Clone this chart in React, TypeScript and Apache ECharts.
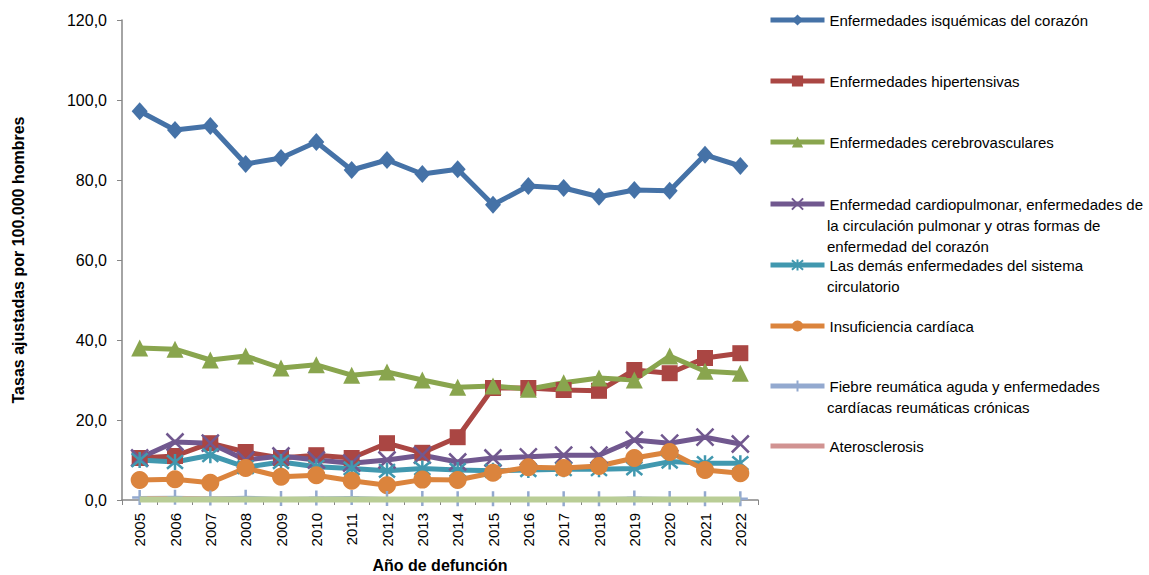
import React, { useEffect, useRef } from "react";
import * as echarts from "echarts";

const years = ["2005","2006","2007","2008","2009","2010","2011","2012","2013","2014","2015","2016","2017","2018","2019","2020","2021","2022"];
const isquemicas = [97.2,92.5,93.5,84.0,85.5,89.5,82.5,85.0,81.5,82.7,73.8,78.5,78.0,75.8,77.5,77.3,86.3,83.5];
const hipertensivas = [10.5,11.0,14.2,12.0,10.5,11.2,10.5,14.2,11.8,15.7,28.0,28.0,27.5,27.3,32.5,31.7,35.5,36.7];
const cerebrovasculares = [38.0,37.7,35.0,36.0,33.0,33.8,31.2,32.0,30.0,28.2,28.5,27.7,29.3,30.5,30.0,36.0,32.2,31.7];
const cardiopulmonar = [10.5,14.5,14.2,10.0,11.0,10.0,9.2,10.0,11.2,9.5,10.5,10.8,11.2,11.2,15.0,14.2,15.7,14.0];
const demas = [10.0,9.5,11.2,8.2,9.5,8.3,7.9,7.3,7.9,7.5,7.3,7.5,7.7,7.7,7.9,9.6,9.2,9.2];
const insuficiencia = [5.0,5.2,4.3,8.0,5.8,6.2,4.8,3.7,5.1,5.0,6.8,8.2,8.0,8.5,10.5,12.0,7.5,6.7];
const fiebre = [0.6,0.7,0.5,0.7,0.4,0.5,0.6,0.4,0.4,0.3,0.3,0.3,0.3,0.3,0.5,0.4,0.3,0.3];
const aterosclerosis = [0.6,0.6,0.5,0.4,0.3,0.3,0.3,0.3,0.3,0.3,0.3,0.3,0.3,0.3,0.3,0.4,0.3,0.3];
const otras = [0.1,0.1,0.1,0.1,0.1,0.1,0.1,0.1,0.1,0.1,0.1,0.1,0.1,0.1,0.1,0.1,0.1,0.1];

const yTicks = { min: 0, max: 120, interval: 20 };

const names = [
  "Enfermedades isquémicas del corazón",
  "Enfermedades hipertensivas",
  "Enfermedades cerebrovasculares",
  "Enfermedad cardiopulmonar, enfermedades de\nla circulación pulmonar y otras formas de\nenfermedad del corazón",
  "Las demás enfermedades del sistema\ncirculatorio",
  "Insuficiencia cardíaca",
  "Fiebre reumática aguda y enfermedades\ncardíacas reumáticas crónicas",
  "Aterosclerosis",
];
const colors = ["#4572A7", "#AA4643", "#89A54E", "#71588F", "#4198AF", "#DB843D", "#93A9CF", "#D19392"];
const stroked = [false, false, false, true, true, false, true, false];
const legendY = [20, 81, 142, 204, 265, 326, 386, 446];
const LINE_GAP = 21;

const FONT = "'Liberation Sans', Arial, sans-serif";
const FS = 15;
const TEXT_X = 827;

const X_PATH = "path://M0,0 L10,10 M10,0 L0,10";
const STAR_PATH = "path://M0,0 L10,10 M10,0 L0,10 M5,-1 L5,11";
const PLUS_PATH = "path://M5,0 L5,10 M0,5 L10,5";

export default function App() {
  const ref = useRef<HTMLDivElement>(null);
  useEffect(() => {
    if (!ref.current) return;
    const chart = echarts.init(ref.current, null, { renderer: "svg" });

    const mk = (i: number, data: number[], width: number, symbol: string, size: any) => {
      const color = colors[i];
      return {
        type: "line",
        name: names[i],
        data,
        color,
        symbol,
        symbolSize: size,
        showSymbol: symbol !== "none",
        lineStyle: { color, width },
        itemStyle: stroked[i]
          ? { color: "rgba(0,0,0,0)", borderColor: color, borderWidth: 2.5 }
          : { color, borderColor: color, borderWidth: 0 },
        emphasis: { disabled: true },
      };
    };

    const series: any[] = [
      mk(0, isquemicas, 5, "diamond", [16, 18]),
      mk(1, hipertensivas, 5, "rect", 16),
      mk(2, cerebrovasculares, 5, "triangle", 17),
      mk(3, cardiopulmonar, 5, X_PATH, 17),
      mk(4, demas, 5, STAR_PATH, 16),
      mk(5, insuficiencia, 5, "circle", 18),
      mk(6, fiebre, 3, PLUS_PATH, 15),
      mk(7, aterosclerosis, 3, "none", 0),
      {
        type: "line",
        name: "Otras",
        data: otras,
        color: "#B9CD96",
        symbol: "none",
        showSymbol: false,
        lineStyle: { color: "#B9CD96", width: 6 },
        emphasis: { disabled: true },
        z: 5,
      },
    ];

    const legends: any[] = names.map((n, i) => ({
      show: true,
      data: [n],
      left: TEXT_X - 59,
      top: legendY[i] - 9,
      orient: "horizontal",
      padding: 0,
      itemWidth: 54,
      itemHeight: 14,
      itemGap: 0,
      selectedMode: false,
      formatter: (name: string) => name.split("\n")[0],
      textStyle: { fontFamily: FONT, fontSize: FS, color: "#000", lineHeight: 18 },
      lineStyle: { color: colors[i], width: 5 },
      itemStyle:
        i === 7
          ? { color: colors[i], opacity: 0 }
          : stroked[i]
          ? { color: "rgba(0,0,0,0)", borderColor: colors[i], borderWidth: 2 }
          : { color: colors[i], borderWidth: 0 },
    }));

    const graphics: any[] = [];
    names.forEach((n, i) => {
      const lines = n.split("\n");
      for (let k = 1; k < lines.length; k++) {
        graphics.push({
          type: "text",
          x: TEXT_X,
          y: legendY[i] + k * LINE_GAP,
          style: { text: lines[k], fontFamily: FONT, fontSize: FS, fill: "#000", verticalAlign: "middle", align: "left" },
        });
      }
    });

    chart.setOption({
      animation: false,
      backgroundColor: "#fff",
      grid: { left: 122, right: 391, top: 20, bottom: 75, containLabel: false, outerBoundsMode: "none" },
      legend: legends,
      graphic: graphics,
      xAxis: {
        type: "category",
        data: years,
        boundaryGap: true,
        name: "Año de defunción",
        nameLocation: "middle",
        nameGap: 57,
        nameTextStyle: { fontFamily: FONT, fontSize: 16, fontWeight: "bold", color: "#000" },
        axisLine: { lineStyle: { color: "#868686", width: 1.5 } },
        axisTick: { show: true, interval: 0, length: 5, lineStyle: { color: "#868686" } },
        axisLabel: { interval: 0, rotate: 90, margin: 13, fontFamily: FONT, fontSize: 15, color: "#000" },
        splitLine: { show: false },
      },
      yAxis: {
        type: "value",
        min: yTicks.min,
        max: yTicks.max,
        interval: yTicks.interval,
        name: "Tasas ajustadas por 100.000 hombres",
        nameLocation: "middle",
        nameGap: 96,
        nameTextStyle: { fontFamily: FONT, fontSize: 16, fontWeight: "bold", color: "#000" },
        axisLine: { show: true, lineStyle: { color: "#868686", width: 1.5 } },
        axisTick: { show: true, length: 5, lineStyle: { color: "#868686" } },
        axisLabel: {
          margin: 15,
          fontFamily: FONT,
          fontSize: 16,
          color: "#000",
          formatter: (v: number) => v.toFixed(1).replace(".", ","),
        },
        splitLine: { show: false },
      },
      series,
    });
    return () => chart.dispose();
  }, []);
  return <div ref={ref} style={{ width: 1149, height: 575, position: "absolute", left: 0, top: 0 }} />;
}
